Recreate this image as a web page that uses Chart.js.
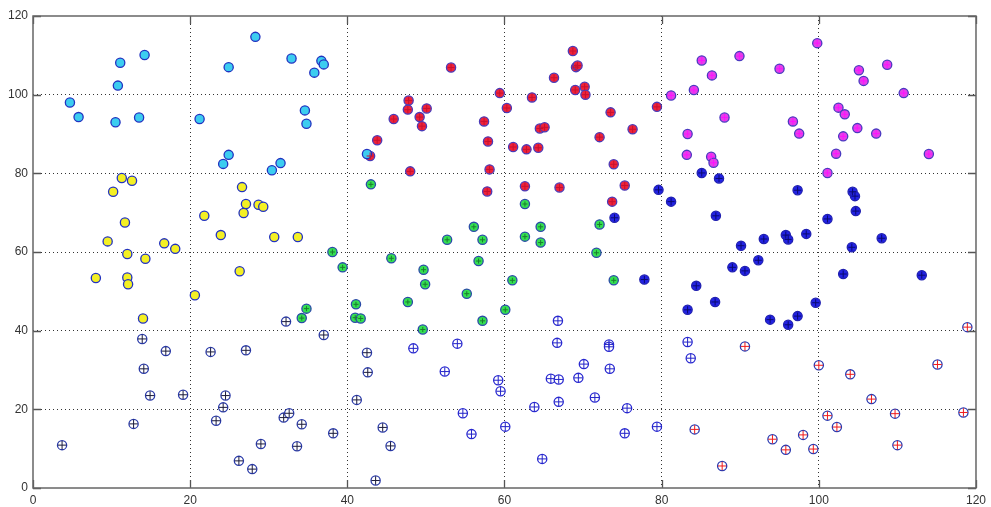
<!DOCTYPE html>
<html>
<head>
<meta charset="utf-8">
<script src="https://cdn.jsdelivr.net/npm/chart.js@4/dist/chart.umd.min.js"></script>
<style>
  html, body { margin: 0; padding: 0; background: #fff; }
  #wrap { width: 991px; height: 507px; }
</style>
</head>
<body>
<div id="wrap"><canvas id="scatter"></canvas></div>
<script>
// axis ticks
const tickValues = [0, 20, 40, 60, 80, 100, 120];

// point groups, [x, y]
const cyanPts = [
  [14.2, 110.1], [11.1, 108.1], [10.8, 102.3], [4.7, 98.0], [5.8, 94.3], [10.5, 93.0],
  [13.5, 94.2], [21.2, 93.8], [28.3, 114.7], [24.9, 107.0], [32.9, 109.2], [36.7, 108.6],
  [37.0, 107.7], [35.8, 105.6], [34.6, 96.0], [34.8, 92.6], [24.9, 84.7], [24.2, 82.4],
  [31.5, 82.6], [30.4, 80.8], [42.5, 84.9]
];
const yellowPts = [
  [11.3, 78.8], [12.6, 78.1], [10.2, 75.3], [11.7, 67.5], [9.5, 62.7], [16.7, 62.2],
  [18.1, 60.8], [12.0, 59.5], [14.3, 58.3], [8.0, 53.4], [12.0, 53.5], [12.1, 51.8],
  [20.6, 49.0], [14.0, 43.1], [26.6, 76.5], [27.1, 72.2], [26.8, 69.9], [28.7, 72.0],
  [29.3, 71.5], [21.8, 69.2], [23.9, 64.3], [30.7, 63.8], [33.7, 63.8], [26.3, 55.1]
];
const darkCrossPts = [
  [13.9, 37.9], [16.9, 34.8], [14.1, 30.3], [14.9, 23.5], [19.1, 23.7], [12.8, 16.3],
  [3.7, 10.9], [32.2, 42.3], [37.0, 38.9], [22.6, 34.6], [27.1, 35.0], [24.5, 23.5],
  [24.2, 20.5], [23.3, 17.1], [31.9, 17.9], [32.6, 19.0], [34.2, 16.2], [38.2, 13.9],
  [29.0, 11.2], [33.6, 10.6], [26.2, 6.9], [27.9, 4.8], [42.5, 34.4], [42.6, 29.4],
  [41.2, 22.4], [44.5, 15.4], [45.5, 10.7], [43.6, 1.9]
];
const blueCrossPts = [
  [48.4, 35.5], [54.0, 36.7], [52.4, 29.6], [54.7, 19.0], [55.8, 13.7], [59.2, 27.4],
  [59.5, 24.6], [60.1, 15.6], [66.8, 42.5], [66.7, 36.9], [73.3, 36.5], [73.3, 35.9],
  [70.1, 31.5], [73.4, 30.3], [65.9, 27.8], [66.9, 27.6], [69.4, 28.0], [66.9, 21.9],
  [71.5, 23.0], [63.8, 20.6], [75.6, 20.3], [75.3, 13.9], [79.4, 15.6], [64.8, 7.4],
  [83.3, 37.1], [83.7, 33.0]
];
const redCrossPts = [
  [90.6, 36.0], [100.0, 31.2], [84.2, 14.9], [94.1, 12.4], [95.8, 9.7], [98.0, 13.5],
  [99.3, 9.9], [87.7, 5.6], [118.9, 40.9], [115.1, 31.4], [104.0, 28.9], [106.7, 22.6],
  [101.1, 18.4], [102.3, 15.5], [109.7, 18.9], [110.0, 10.9], [118.4, 19.2]
];
const greenPts = [
  [62.6, 72.2], [64.6, 66.4], [62.6, 63.9], [64.6, 62.4], [72.1, 67.0], [71.7, 59.8],
  [43.0, 77.2], [56.1, 66.4], [52.7, 63.1], [57.2, 63.1], [45.6, 58.4], [56.7, 57.7],
  [49.7, 55.5], [49.9, 51.8], [55.2, 49.4], [47.7, 47.3], [41.1, 46.7], [41.0, 43.3],
  [41.7, 43.1], [60.1, 45.3], [57.2, 42.5], [49.6, 40.3], [38.1, 60.0], [39.4, 56.1],
  [34.8, 45.6], [34.2, 43.2], [61.0, 52.8], [73.9, 52.8]
];
const redPts = [
  [79.4, 96.9], [68.7, 111.1], [69.1, 107.0], [69.3, 107.4], [66.3, 104.3], [69.0, 101.2],
  [70.2, 102.0], [70.3, 100.0], [63.5, 99.3], [59.4, 100.4], [60.3, 96.6], [73.5, 95.5],
  [76.3, 91.2], [72.1, 89.2], [64.5, 91.4], [65.1, 91.7], [61.1, 86.7], [62.8, 86.1],
  [64.3, 86.5], [73.9, 82.3], [62.6, 76.7], [67.0, 76.4], [75.3, 76.9], [73.7, 72.8],
  [53.2, 106.9], [47.8, 98.5], [47.7, 96.2], [50.1, 96.5], [49.2, 94.3], [49.5, 92.0],
  [45.9, 93.8], [43.8, 88.4], [42.9, 84.4], [48.0, 80.5], [57.4, 93.2], [57.9, 88.1],
  [58.1, 81.0], [57.8, 75.4]
];
const magentaPts = [
  [99.8, 113.1], [105.1, 106.2], [108.7, 107.6], [105.7, 103.5], [110.8, 100.4], [102.5, 96.7],
  [103.3, 95.0], [104.9, 91.5], [107.3, 90.1], [103.1, 89.4], [102.2, 85.0], [114.0, 84.9],
  [101.1, 80.1], [85.1, 108.7], [89.9, 109.8], [86.4, 104.9], [95.0, 106.6], [84.1, 101.2],
  [81.2, 99.8], [88.0, 94.2], [96.7, 93.2], [97.5, 90.1], [83.3, 90.0], [83.2, 84.7],
  [86.3, 84.2], [86.6, 82.7]
];
const bluePts = [
  [90.1, 61.6], [89.0, 56.1], [90.6, 55.2], [92.3, 57.9], [84.4, 51.4], [86.8, 47.3],
  [83.3, 45.3], [93.8, 42.8], [96.1, 41.5], [97.3, 43.7], [99.6, 47.1], [104.2, 61.2],
  [103.1, 54.4], [113.1, 54.1], [104.3, 75.3], [104.6, 74.2], [104.7, 70.4], [101.1, 68.4],
  [108.0, 63.5], [85.1, 80.1], [87.3, 78.7], [79.6, 75.8], [81.2, 72.8], [86.9, 69.2],
  [93.0, 63.3], [95.8, 64.3], [96.1, 63.2], [98.4, 64.6], [97.3, 75.7], [74.0, 68.7],
  [77.8, 53.0]
];

const toXY = (pts) => pts.map(([x, y]) => ({ x, y }));

// filled circle with blue ring
function ring(pts, fill, edge) {
  return {
    data: toXY(pts),
    pointStyle: "circle",
    pointRadius: 4.6,
    backgroundColor: fill,
    borderColor: edge,
    borderWidth: 1.3,
    order: 2,
  };
}

// "+" drawn on top of a ring
function cross(pts, color, r = 4.2) {
  return {
    data: toXY(pts),
    pointStyle: "cross",
    pointRadius: r,
    borderColor: color,
    borderWidth: 1,
    order: 1,
  };
}

// frame + inward tick marks, like the matlab axes box
const axesBox = {
  id: "axesBox",
  afterDatasetsDraw(chart) {
    const { ctx, chartArea: a, scales } = chart;
    ctx.save();
    ctx.strokeStyle = "#555";
    ctx.lineWidth = 1.3;
    ctx.beginPath();
    tickValues.forEach((v) => {
      const px = Math.round(scales.x.getPixelForValue(v)) + 0.5;
      const py = Math.round(scales.y.getPixelForValue(v)) + 0.5;
      ctx.moveTo(px, a.bottom); ctx.lineTo(px, a.bottom - 8);
      ctx.moveTo(px, a.top); ctx.lineTo(px, a.top + 8);
      ctx.moveTo(a.left, py); ctx.lineTo(a.left + 8, py);
      ctx.moveTo(a.right, py); ctx.lineTo(a.right - 8, py);
    });
    ctx.stroke();
    ctx.strokeStyle = "#666";
    ctx.lineWidth = 1.5;
    ctx.strokeRect(a.left, a.top, a.right - a.left, a.bottom - a.top);
    ctx.restore();
  },
};

const gridColor = (c) =>
  c.tick && (c.tick.value === 0 || c.tick.value === 120) ? "rgba(0,0,0,0)" : "#333";

const axisCommon = {
  type: "linear",
  min: 0,
  max: 120,
  afterBuildTicks: (s) => { s.ticks = tickValues.map((v) => ({ value: v })); },
  grid: { color: gridColor, lineWidth: 1, drawTicks: false },
  border: { display: false, dash: [1, 3] },
  ticks: {
    color: "#333",
    font: { family: "Liberation Sans, Arial, sans-serif", size: 12 },
    padding: 5,
  },
};

new Chart(document.getElementById("scatter"), {
  type: "scatter",
  data: {
    datasets: [
      ring(cyanPts, "#3ccdf0", "#2232c0"),
      ring(yellowPts, "#f4f024", "#2232c0"),
      ring(darkCrossPts, "#ffffff", "#2a3aa8"),
      cross(darkCrossPts, "#1c1c3c"),
      ring(blueCrossPts, "#ffffff", "#2828d0"),
      cross(blueCrossPts, "#2424c8"),
      ring(redCrossPts, "#ffffff", "#2a3ab0"),
      cross(redCrossPts, "#f01c1c"),
      ring(greenPts, "#34e050", "#2a4aa8"),
      cross(greenPts, "#1a7a30", 2.5),
      ring(redPts, "#ee2238", "#4a3ab8"),
      cross(redPts, "#c81030", 3.5),
      ring(magentaPts, "#e440e8", "#4a3ac0"),
      cross(magentaPts, "#ff10ff", 3.5),
      ring(bluePts, "#2222e4", "#2020b0"),
      cross(bluePts, "#0a0a70", 3.5),
    ],
  },
  options: {
    responsive: true,
    maintainAspectRatio: false,
    animation: false,
    events: [],
    layout: { padding: { top: 16, right: 13, left: 0, bottom: 0 } },
    scales: {
      x: { ...axisCommon, afterFit: (s) => { s.height = 19; } },
      y: { ...axisCommon, afterFit: (s) => { s.width = 33; } },
    },
    plugins: {
      legend: { display: false },
      tooltip: { enabled: false },
    },
  },
  plugins: [axesBox],
});
</script>
</body>
</html>
